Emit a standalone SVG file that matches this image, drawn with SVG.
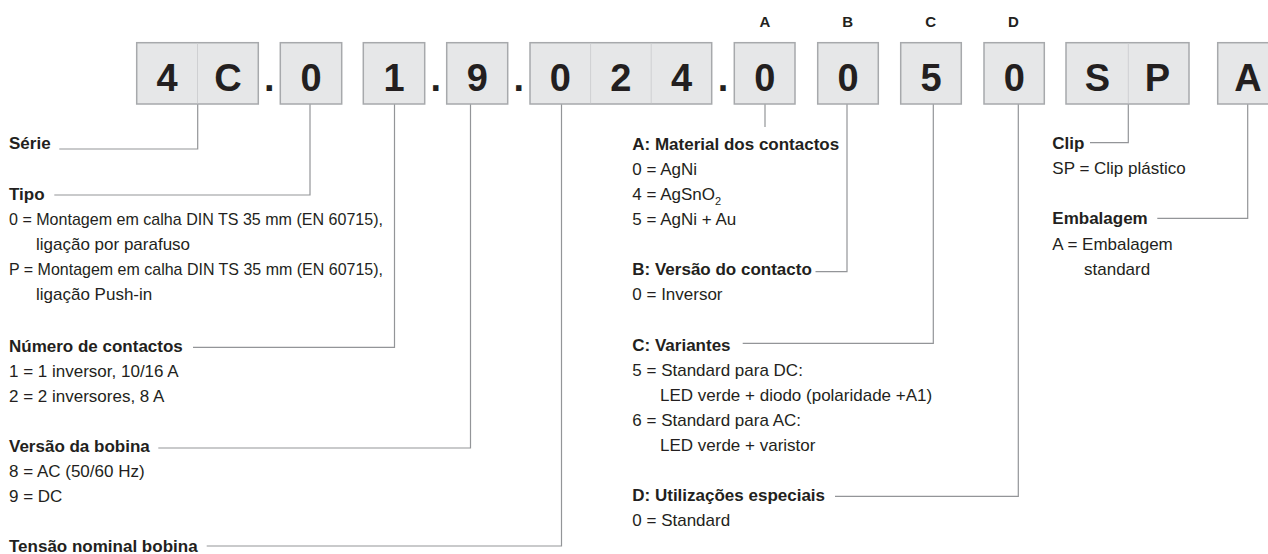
<svg xmlns="http://www.w3.org/2000/svg" width="1268" height="554" viewBox="0 0 1268 554">
<style>
.box{fill:#e6e7e8;stroke:#a7a9ac;stroke-width:1.5}
.dv{stroke:#cfd0d2;stroke-width:1}
.code{font-family:"Liberation Sans",Arial,sans-serif;font-weight:bold;font-size:38px;fill:#231f20;text-anchor:middle}
.key{font-family:"Liberation Sans",Arial,sans-serif;font-weight:bold;font-size:15px;fill:#231f20;text-anchor:middle}
.h{font-family:"Liberation Sans",Arial,sans-serif;font-weight:bold;font-size:17px;fill:#231f20}
.t{font-family:"Liberation Sans",Arial,sans-serif;font-size:17px;fill:#231f20}
.conn{fill:none;stroke:#939598;stroke-width:1.2}
</style>
<rect width="1268" height="554" fill="#ffffff"/>

<g id="connectors">
<polyline class="conn" points="197.7,104 197.7,149 59.3,149"/>
<polyline class="conn" points="310,104 310,195 54.3,195"/>
<polyline class="conn" points="394.5,104 394.5,347.3 193,347.3"/>
<polyline class="conn" points="470.5,104 470.5,448 158.3,448"/>
<polyline class="conn" points="561.5,104 561.5,546 206.7,546"/>
<polyline class="conn" points="765,104 765,127"/>
<polyline class="conn" points="847,104 847,271.7 815.5,271.7"/>
<polyline class="conn" points="933.3,104 933.3,343.3 742.7,343.3"/>
<polyline class="conn" points="1018.3,104 1018.3,496.3 835,496.3"/>
<polyline class="conn" points="1128.3,104 1128.3,142.7 1090,142.7"/>
<polyline class="conn" points="1247.7,104 1247.7,218.3 1157.3,218.3"/>
</g>

<g id="code-4C">
<rect class="box" x="136.7" y="42.7" width="121.6" height="61.3"/>
<line class="dv" x1="197.5" y1="43.5" x2="197.5" y2="103.2"/>
<text class="code" x="167.1" y="90.5">4</text>
<text class="code" x="227.9" y="90.5">C</text>
</g>
<text class="code" x="269.3" y="90.5">.</text>
<g id="code-0">
<rect class="box" x="280.3" y="42.7" width="61.4" height="61.3"/>
<text class="code" x="311" y="90.5">0</text>
</g>
<g id="code-1">
<rect class="box" x="363.3" y="42.7" width="61.4" height="61.3"/>
<text class="code" x="394" y="90.5">1</text>
</g>
<text class="code" x="435.7" y="90.5">.</text>
<g id="code-9">
<rect class="box" x="446.7" y="42.7" width="61" height="61.3"/>
<text class="code" x="477.2" y="90.5">9</text>
</g>
<text class="code" x="518.8" y="90.5">.</text>
<g id="code-024">
<rect class="box" x="530" y="42.7" width="181.7" height="61.3"/>
<line class="dv" x1="590.6" y1="43.5" x2="590.6" y2="103.2"/>
<line class="dv" x1="651.2" y1="43.5" x2="651.2" y2="103.2"/>
<text class="code" x="560.3" y="90.5">0</text>
<text class="code" x="620.9" y="90.5">2</text>
<text class="code" x="681.5" y="90.5">4</text>
</g>
<text class="code" x="723" y="90.5">.</text>
<g id="code-A">
<text class="key" x="765" y="27.3">A</text>
<rect class="box" x="734.3" y="42.7" width="60.7" height="61.3"/>
<text class="code" x="764.7" y="90.5">0</text>
</g>
<g id="code-B">
<text class="key" x="847.7" y="27.3">B</text>
<rect class="box" x="817.7" y="42.7" width="60.6" height="61.3"/>
<text class="code" x="848" y="90.5">0</text>
</g>
<g id="code-C">
<text class="key" x="930.7" y="27.3">C</text>
<rect class="box" x="900.7" y="42.7" width="60.6" height="61.3"/>
<text class="code" x="931" y="90.5">5</text>
</g>
<g id="code-D">
<text class="key" x="1013.3" y="27.3">D</text>
<rect class="box" x="984" y="42.7" width="60.3" height="61.3"/>
<text class="code" x="1014.2" y="90.5">0</text>
</g>
<g id="code-SP">
<rect class="box" x="1066" y="42.7" width="123" height="61.3"/>
<line class="dv" x1="1128.3" y1="43.5" x2="1128.3" y2="103.2"/>
<text class="code" x="1097.5" y="90.5">S</text>
<text class="code" x="1157.5" y="90.5">P</text>
</g>
<g id="code-A2">
<rect class="box" x="1217.7" y="42.7" width="60.6" height="61.3"/>
<text class="code" x="1248" y="90.5">A</text>
</g>

<g id="label-serie">
<text class="h" x="9" y="149">Série</text>
</g>
<g id="label-tipo">
<text class="h" x="9" y="200">Tipo</text>
<text class="t" x="9" y="225" textLength="374" lengthAdjust="spacingAndGlyphs">0 = Montagem em calha DIN TS 35 mm (EN 60715),</text>
<text class="t" x="36" y="250">ligação por parafuso</text>
<text class="t" x="9" y="275" textLength="374" lengthAdjust="spacingAndGlyphs">P = Montagem em calha DIN TS 35 mm (EN 60715),</text>
<text class="t" x="36" y="300">ligação Push-in</text>
</g>
<g id="label-contactos">
<text class="h" x="9" y="351.5">Número de contactos</text>
<text class="t" x="9" y="376.5">1 = 1 inversor, 10/16 A</text>
<text class="t" x="9" y="401.5">2 = 2 inversores, 8 A</text>
</g>
<g id="label-bobina">
<text class="h" x="9" y="451.7">Versão da bobina</text>
<text class="t" x="9" y="476.7">8 = AC (50/60 Hz)</text>
<text class="t" x="9" y="501.7">9 = DC</text>
</g>
<g id="label-tensao">
<text class="h" x="9" y="551.5">Tensão nominal bobina</text>
</g>

<g id="label-A">
<text class="h" x="632.3" y="150">A: Material dos contactos</text>
<text class="t" x="632.3" y="175">0 = AgNi</text>
<text class="t" x="632.3" y="200">4 = AgSnO<tspan font-size="11" dy="5">2</tspan></text>
<text class="t" x="632.3" y="225">5 = AgNi + Au</text>
</g>
<g id="label-B">
<text class="h" x="632.3" y="274.5">B: Versão do contacto</text>
<text class="t" x="632.3" y="300">0 = Inversor</text>
</g>
<g id="label-C">
<text class="h" x="632.3" y="350.5">C: Variantes</text>
<text class="t" x="632.3" y="375.5">5 = Standard para DC:</text>
<text class="t" x="660" y="400.5">LED verde + diodo (polaridade +A1)</text>
<text class="t" x="632.3" y="425.5">6 = Standard para AC:</text>
<text class="t" x="660" y="450.5">LED verde + varistor</text>
</g>
<g id="label-D">
<text class="h" x="632.3" y="500.5">D: Utilizações especiais</text>
<text class="t" x="632.3" y="525.5">0 = Standard</text>
</g>

<g id="label-clip">
<text class="h" x="1052.3" y="149">Clip</text>
<text class="t" x="1052.3" y="174">SP = Clip plástico</text>
</g>
<g id="label-embalagem">
<text class="h" x="1052.3" y="224">Embalagem</text>
<text class="t" x="1052.3" y="249.5">A = Embalagem</text>
<text class="t" x="1084" y="274.5">standard</text>
</g>
</svg>
